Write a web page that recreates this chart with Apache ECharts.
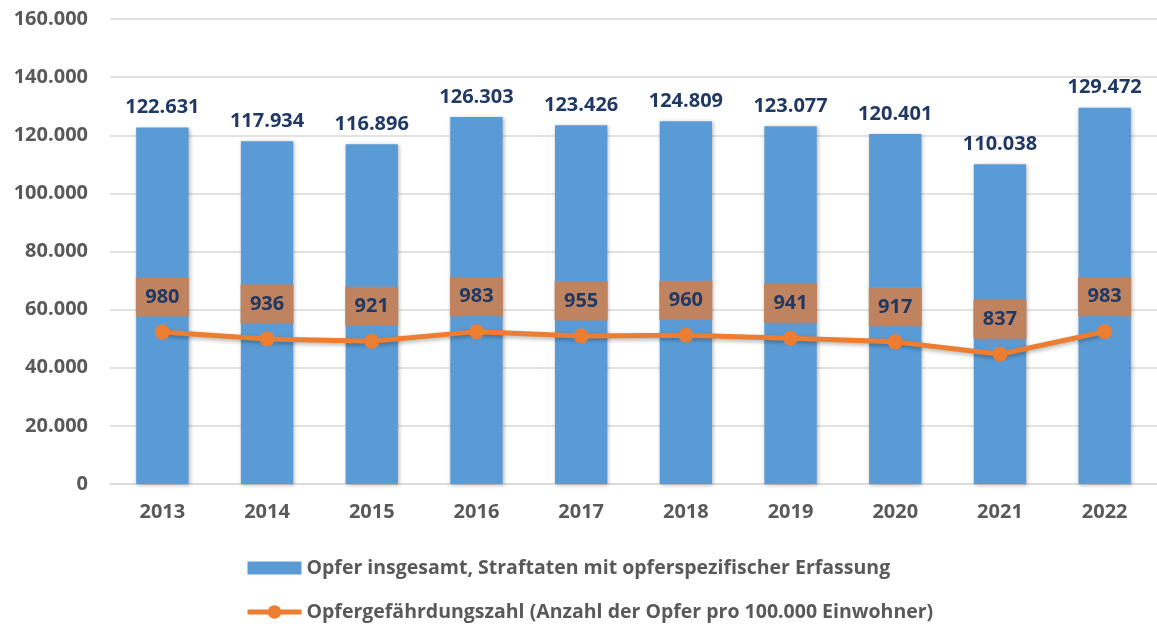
<!DOCTYPE html>
<html><head><meta charset="utf-8">
<script src="https://cdn.jsdelivr.net/npm/echarts@6/dist/echarts.min.js"></script>
<style>html,body{margin:0;padding:0;background:#fff}#c{width:1157px;height:624px}</style>
</head><body><div id="c"></div>
<script>
const categories = ['2013','2014','2015','2016','2017','2018','2019','2020','2021','2022'];
const victims = [122631,117934,116896,126303,123426,124809,123077,120401,110038,129472];
const rate = [980,936,921,983,955,960,941,917,837,983];
const barName = 'Opfer insgesamt, Straftaten mit opferspezifischer Erfassung';
const lineName = 'Opfergefährdungszahl (Anzahl der Opfer pro 100.000 Einwohner)';

const fmt = v => String(v).replace(/\B(?=(\d{3})+(?!\d))/g, '.');
const FONT = 'Open Sans';
const chart = echarts.init(document.getElementById('c'));
chart.setOption({
  animation:false,
  textStyle:{fontFamily:FONT},
  grid:{left:110,right:0,top:19,bottom:140,containLabel:false},
  legend:{
    orient:'vertical', left:245, top:558, height:66, padding:0, itemGap:24, itemWidth:54, itemHeight:17,
    textStyle:{fontFamily:FONT,fontSize:19.5,lineHeight:20,fontWeight:'bold',color:'#595959'},
    data:[{name:barName,icon:'path://M0,0h0.1v0.1h-0.1zM0,16.9h0.1v0.1h-0.1zM0,2h54v13H0z'},
          {name:lineName,lineStyle:{width:5,color:'#ED7D31'},itemStyle:{color:'#ED7D31'}}]
  },
  xAxis:{type:'category',data:categories,
    axisLine:{lineStyle:{color:'#d9d9d9',width:1.5}},axisTick:{show:false},
    axisLabel:{fontFamily:FONT,fontSize:20,fontWeight:'bold',color:'#595959',margin:18}},
  yAxis:[{type:'value',min:0,max:160000,interval:20000,
    axisLabel:{formatter:fmt,fontFamily:FONT,fontSize:20,fontWeight:'bold',color:'#595959',margin:22},
    splitLine:{lineStyle:{color:'#d9d9d9',width:1.5}},axisLine:{show:false},axisTick:{show:false}},
    {type:'value',min:0,max:3000,show:false,splitLine:{show:false}}],
  series:[
    {name:barName,type:'bar',data:victims,barWidth:'50%',
      itemStyle:{color:'#5B9BD5',shadowColor:'rgba(0,0,0,0.3)',shadowBlur:4,shadowOffsetX:1,shadowOffsetY:1},
      label:{show:true,position:'top',distance:10,formatter:p=>fmt(p.value),
        fontFamily:FONT,fontSize:20,fontWeight:'bold',color:'#1F3864'}},
    {name:lineName,type:'line',yAxisIndex:1,data:rate,symbol:'circle',symbolSize:15,
      lineStyle:{color:'#ED7D31',width:5,shadowColor:'rgba(0,0,0,0.3)',shadowBlur:4,shadowOffsetY:2},
      itemStyle:{color:'#ED7D31'},
      label:{show:true,position:'top',distance:8,formatter:p=>p.value,
        fontFamily:FONT,fontSize:20,fontWeight:'bold',color:'#1F3864',
        backgroundColor:'#C0835F',width:53,height:39,lineHeight:39,align:'center'}}
  ]
});
</script></body></html>
